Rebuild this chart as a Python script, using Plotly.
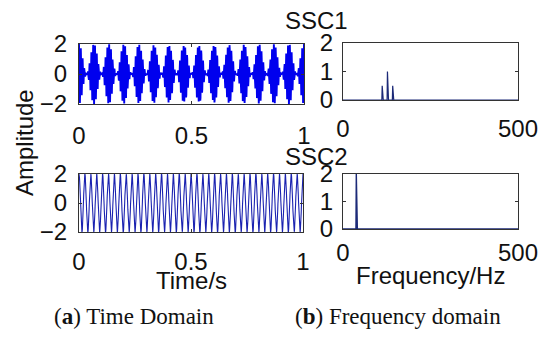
import numpy as np
import plotly.graph_objects as go

# ---- data ----
sample_rate_hz = 1000
duration_s = 1.0
# SSC1: three spectral lines (Hz) and their amplitudes
ssc1_freqs = [112, 127, 142]
ssc1_amps = [0.5, 1.0, 0.5]
# SSC2: one spectral line
ssc2_freqs = [38]
ssc2_amps = [2.0]

time_ticks = [0, 0.5, 1]
time_tick_labels = ["0", "0.5", "1"]
amp_ticks = [-2, 0, 2]
freq_ticks = [0, 500]
spec_ticks = [0, 1, 2]

# ---- build series from the components ----
t = np.arange(0, duration_s + 1e-9, 1.0 / sample_rate_hz)
def synth(freqs, amps):
    return sum(a * np.cos(2 * np.pi * f * t) for f, a in zip(freqs, amps))
def spectrum(freqs, amps):
    f = np.arange(0, sample_rate_hz // 2 + 1)
    s = np.zeros_like(f, dtype=float)
    for fr, a in zip(freqs, amps):
        s[fr] = a
    return f, s

sig1 = synth(ssc1_freqs, ssc1_amps)
sig2 = synth(ssc2_freqs, ssc2_amps)
f1, s1 = spectrum(ssc1_freqs, ssc1_amps)
f2, s2 = spectrum(ssc2_freqs, ssc2_amps)

W, H = 550, 342
def px(x):
    return x / W
def py(y):
    return 1 - y / H

SIG = "#0000ee"
SPEC = "#1c2a78"
FRAME = "#333333"
FONT = "Liberation Sans, Arial, sans-serif"

fig = go.Figure()
fig.add_trace(go.Scatter(x=t, y=sig1, mode="lines", line=dict(color=SIG, width=1.9), xaxis="x", yaxis="y"))
fig.add_trace(go.Scatter(x=f1, y=s1, mode="lines", line=dict(color=SPEC, width=1.2), xaxis="x2", yaxis="y2"))
fig.add_trace(go.Scatter(x=t, y=sig2, mode="lines", line=dict(color="#1a22b0", width=1.1), xaxis="x3", yaxis="y3"))
fig.add_trace(go.Scatter(x=f2, y=s2, mode="lines", line=dict(color=SPEC, width=1.4), xaxis="x4", yaxis="y4"))

def ax(domain, rng, tickvals, ticktext=None, standoff=0):
    d = dict(domain=domain, range=rng, tickvals=tickvals, showgrid=False, zeroline=False,
             showline=True, linecolor=FRAME, linewidth=1, mirror="ticks",
             ticks="inside", ticklen=3, tickcolor=FRAME, automargin=False,
             tickfont=dict(family=FONT, size=24, color="#111111"),
             ticklabelstandoff=standoff, fixedrange=True)
    if ticktext is not None:
        d["ticktext"] = ticktext
    return d

layout = dict(
    width=W, height=H, margin=dict(l=0, r=0, t=0, b=0, autoexpand=False),
    paper_bgcolor="white", plot_bgcolor="white", showlegend=False,
    xaxis=ax([px(79), px(304)], [0, 1], time_ticks, time_tick_labels, 10),
    yaxis=ax([py(104), py(44)], [-2, 2], amp_ticks, None, 6),
    xaxis2=ax([px(343), px(518)], [0, 500], freq_ticks, None, 7),
    yaxis2=ax([py(100), py(43)], [0, 2], spec_ticks, None, 4),
    xaxis3=ax([px(79), px(303)], [0, 1], time_ticks, time_tick_labels, 8),
    yaxis3=ax([py(232), py(174)], [-2, 2], amp_ticks, None, 6),
    xaxis4=ax([px(343), px(518)], [0, 500], freq_ticks, None, 2),
    yaxis4=ax([py(229), py(174)], [0, 2], spec_ticks, None, 4),
)
for i in ["", "2", "3", "4"]:
    layout["xaxis" + i]["anchor"] = "y" + i
    layout["yaxis" + i]["anchor"] = "x" + i
fig.update_layout(**layout)

def note(text, x, y, size=24, family=FONT, angle=0):
    fig.add_annotation(text=text, x=px(x), y=py(y), xref="paper", yref="paper",
                       showarrow=False, xanchor="center", yanchor="middle",
                       textangle=angle, font=dict(family=family, size=size, color="#111111"))

note("SSC1", 316, 20)
note("SSC2", 316, 156)
note("Amplitude", 24, 143, angle=-90)
note("Time/s", 191, 280)
note("Frequency/Hz", 430, 275)
SERIF = "Liberation Serif, Times New Roman, serif"
note("(<b>a</b>) Time Domain", 134, 316, size=23, family=SERIF)
note("(<b>b</b>) Frequency domain", 398, 316, size=23, family=SERIF)

fig.write_html("out.html", config={"displayModeBar": False},
               post_script="document.body.style.margin='0';document.body.style.overflow='hidden';")
